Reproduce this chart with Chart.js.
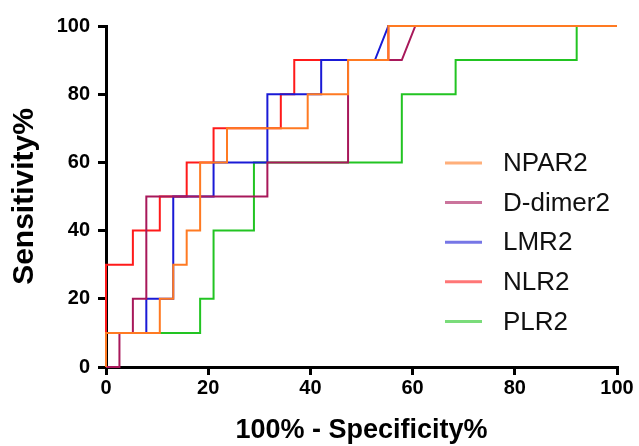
<!DOCTYPE html>
<html>
<head>
<meta charset="utf-8">
<script src="https://cdn.jsdelivr.net/npm/chart.js@4.4.1/dist/chart.umd.min.js"></script>
<style>
  html, body { margin: 0; padding: 0; background: #fff; }
  #wrap { width: 639px; height: 446px; }
</style>
</head>
<body>
<div id="wrap"><canvas id="roc" width="639" height="446"></canvas></div>
<script>
// ROC curves: 100% - specificity (x) against sensitivity (y), in percent
const seriesNames = ['NPAR2', 'D-dimer2', 'LMR2', 'NLR2', 'PLR2'];
const seriesColors = ['#ff7a22', '#a8185a', '#1a1ad6', '#ff1a1a', '#22c422'];

const npar2X = [0, 0, 10.53, 10.53, 13.16, 13.16, 15.79, 15.79, 18.42, 18.42, 23.68, 23.68, 39.47, 39.47, 47.37, 47.37, 55.26, 55.26, 100];
const npar2Y = [0, 10, 10, 20, 20, 30, 30, 40, 40, 60, 60, 70, 70, 80, 80, 90, 90, 100, 100];

const ddimer2X = [0, 2.63, 2.63, 5.26, 5.26, 7.89, 7.89, 31.58, 31.58, 47.37, 47.37, 57.89, 60.53, 100];
const ddimer2Y = [0, 0, 10, 10, 20, 20, 50, 50, 60, 60, 90, 90, 100, 100];

const lmr2X = [0, 0, 7.89, 7.89, 13.16, 13.16, 21.05, 21.05, 31.58, 31.58, 42.11, 42.11, 52.63, 55.26, 100];
const lmr2Y = [0, 10, 10, 20, 20, 50, 50, 60, 60, 80, 80, 90, 90, 100, 100];

const nlr2X = [0, 0, 5.26, 5.26, 10.53, 10.53, 15.79, 15.79, 21.05, 21.05, 34.21, 34.21, 36.84, 36.84, 55.26, 55.26, 100];
const nlr2Y = [0, 30, 30, 40, 40, 50, 50, 60, 60, 70, 70, 80, 80, 90, 90, 100, 100];

const plr2X = [0, 0, 18.42, 18.42, 21.05, 21.05, 28.95, 28.95, 57.89, 57.89, 68.42, 68.42, 92.11, 92.11, 100];
const plr2Y = [0, 10, 10, 20, 20, 40, 40, 60, 60, 80, 80, 90, 90, 100, 100];

const axisTicks = [0, 20, 40, 60, 80, 100];
const xTitle = '100% - Specificity%';
const yTitle = 'Sensitivity%';

const FONT = "'Liberation Sans', Arial, Helvetica, sans-serif";

function toPoints(xs, ys) {
  return xs.map((x, i) => ({ x: x, y: ys[i] }));
}

const seriesData = [
  toPoints(npar2X, npar2Y),
  toPoints(ddimer2X, ddimer2Y),
  toPoints(lmr2X, lmr2Y),
  toPoints(nlr2X, nlr2Y),
  toPoints(plr2X, plr2Y)
];

// axis titles and the legend block are painted after the chart
const decorations = {
  id: 'decorations',
  afterDraw(chart) {
    const ctx = chart.ctx;
    const area = chart.chartArea;
    ctx.save();
    ctx.fillStyle = '#000';
    ctx.textAlign = 'center';
    ctx.textBaseline = 'middle';

    // x axis title
    ctx.font = 'bold 27px ' + FONT;
    ctx.fillText(xTitle, (area.left + area.right) / 2, area.bottom + 64);

    // y axis title, rotated
    ctx.save();
    ctx.font = 'bold 30px ' + FONT;
    ctx.translate(25, (area.top + area.bottom) / 2);
    ctx.rotate(-Math.PI / 2);
    ctx.fillText(yTitle, 0, 0);
    ctx.restore();

    // legend
    const lx = 445, ty = 163, gap = 39.6;
    ctx.font = '26px ' + FONT;
    ctx.textAlign = 'left';
    chart.data.datasets.forEach((ds, i) => {
      const y = ty + i * gap;
      ctx.globalAlpha = 0.6;
      ctx.strokeStyle = ds.borderColor;
      ctx.lineWidth = 3;
      ctx.beginPath();
      ctx.moveTo(lx, y);
      ctx.lineTo(lx + 37, y);
      ctx.stroke();
      ctx.globalAlpha = 1;
      ctx.fillStyle = '#111';
      ctx.fillText(ds.label, lx + 58, y + 1);
    });
    ctx.restore();
  }
};

const axisCommon = {
  type: 'linear',
  min: 0,
  max: 100,
  border: { display: true, color: '#000', width: 3 },
  grid: {
    display: true,
    drawOnChartArea: false,
    drawTicks: true,
    tickLength: 8,
    lineWidth: 3,
    color: '#000'
  },
  afterBuildTicks(scale) {
    scale.ticks = axisTicks.map(v => ({ value: v }));
  }
};

new Chart(document.getElementById('roc'), {
  type: 'line',
  data: {
    datasets: seriesNames.map((name, i) => ({
      label: name,
      data: seriesData[i],
      borderColor: seriesColors[i],
      backgroundColor: seriesColors[i],
      borderWidth: 2,
      pointRadius: 0,
      tension: 0,
      fill: false,
      clip: false
    }))
  },
  options: {
    responsive: false,
    animation: false,
    events: [],
    layout: { padding: { left: 0, top: 26, right: 22, bottom: 0 } },
    plugins: {
      legend: { display: false },
      tooltip: { enabled: false }
    },
    scales: {
      x: Object.assign({}, axisCommon, {
        position: 'bottom',
        ticks: { color: '#000', padding: 1, maxRotation: 0, font: { family: FONT, size: 20, weight: 'bold' } },
        afterFit(scale) { scale.height = 79; }
      }),
      y: Object.assign({}, axisCommon, {
        position: 'left',
        ticks: { color: '#000', padding: 8, font: { family: FONT, size: 20, weight: 'bold' } },
        afterFit(scale) { scale.width = 106; }
      })
    }
  },
  plugins: [decorations]
});
</script>
</body>
</html>
